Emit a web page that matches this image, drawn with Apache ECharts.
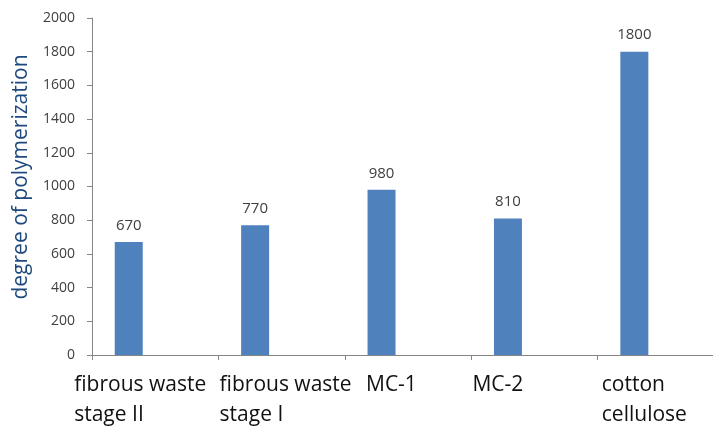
<!DOCTYPE html>
<html>
<head>
<meta charset="utf-8">
<script src="https://cdn.jsdelivr.net/npm/echarts@6/dist/echarts.min.js"></script>
<style>
  html, body { margin: 0; padding: 0; background: #ffffff; overflow: hidden; }
  /* the plot runs slightly past the right edge of the window */
  #chart { width: 724px; height: 427px; }
</style>
</head>
<body>
<div id="chart"></div>
<script>
// Samples and their degree of polymerization
const categories = [
  'fibrous waste\nstage II',
  'fibrous waste\nstage I',
  'MC-1',
  'MC-2',
  'cotton\ncellulose'
];
const dpValues = [670, 770, 980, 810, 1800];
const yTicks = [0, 200, 400, 600, 800, 1000, 1200, 1400, 1600, 1800, 2000];

// Width of each category label block (lines are left-aligned inside it)
const labelBlockWidths = [162, 124, 84, 124, 118];

const rich = {};
labelBlockWidths.forEach(function (w, i) {
  rich['c' + i] = {
    width: w,
    align: 'left',
    lineHeight: 30,
    fontFamily: 'Open Sans',
    fontSize: 21,
    color: '#111111'
  };
});

const chart = echarts.init(document.getElementById('chart'));
chart.setOption({
  animation: false,
  backgroundColor: '#ffffff',
  grid: { left: 92, top: 18, right: 0, height: 337, containLabel: false },
  xAxis: {
    type: 'category',
    data: categories,
    axisLine: { lineStyle: { color: '#868686', width: 1 } },
    axisTick: { show: true, length: 5, lineStyle: { color: '#868686' } },
    axisLabel: {
      interval: 0,
      margin: 15,
      formatter: function (value, idx) {
        return value.split('\n').map(function (line) {
          return '{c' + idx + '|' + line + '}';
        }).join('\n');
      },
      rich: rich
    }
  },
  yAxis: {
    type: 'value',
    min: yTicks[0],
    max: yTicks[yTicks.length - 1],
    interval: yTicks[1] - yTicks[0],
    name: 'degree of polymerization',
    nameLocation: 'middle',
    nameRotate: 90,
    nameGap: 60,
    nameTextStyle: {
      fontFamily: 'Open Sans',
      fontSize: 21,
      color: '#1f497d',
      padding: [0, 0, 0, 19]
    },
    axisLine: { show: true, lineStyle: { color: '#868686', width: 1 } },
    axisTick: { show: true, length: 5, lineStyle: { color: '#868686' } },
    splitLine: { show: false },
    axisLabel: {
      margin: 17,
      fontFamily: 'Open Sans',
      fontSize: 14,
      color: '#404040',
      formatter: function (v) { return String(v); }
    }
  },
  series: [
    {
      name: 'degree of polymerization',
      type: 'bar',
      data: dpValues,
      barWidth: 28,
      barGap: '89%',
      itemStyle: { color: '#4f81bd' },
      label: {
        show: true,
        position: 'top',
        distance: 9,
        fontFamily: 'Open Sans',
        fontSize: 15,
        color: '#404040'
      }
    },
    {
      // empty companion series that keeps each bar left of its slot centre
      name: 'companion',
      type: 'bar',
      data: dpValues.map(function () { return null; }),
      barWidth: 28,
      barGap: '89%',
      silent: true
    }
  ]
});
</script>
</body>
</html>
